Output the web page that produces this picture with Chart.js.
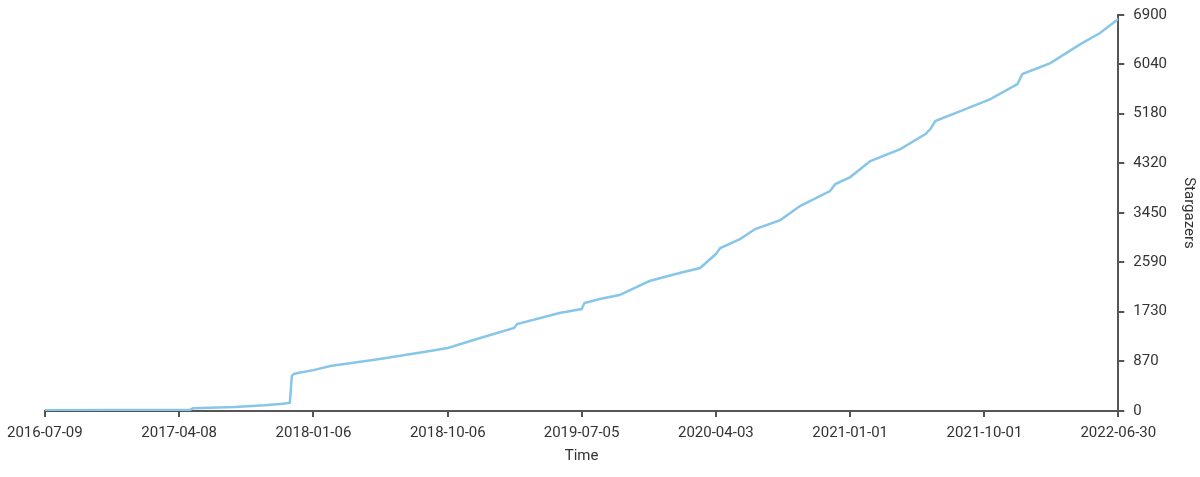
<!DOCTYPE html>
<html>
<head>
<meta charset="utf-8">
<script src="https://cdn.jsdelivr.net/npm/chart.js@4.4.0/dist/chart.umd.min.js"></script>
<style>
  html, body { margin: 0; padding: 0; background: #fff; }
  #wrap { width: 1200px; height: 477px; position: relative; }
</style>
</head>
<body>
<div id="wrap"><canvas id="starsChart"></canvas></div>
<script>
// stargazer history
const dates = [
  '2016-07-09', '2017-04-30', '2017-05-06', '2017-07-30', '2017-09-29', '2017-11-05',
  '2017-11-19', '2017-11-23', '2017-11-27', '2017-12-05', '2018-01-06', '2018-02-09',
  '2018-05-21', '2018-08-31', '2018-10-06', '2018-12-11', '2019-02-18', '2019-02-24',
  '2019-05-21', '2019-07-05', '2019-07-11', '2019-08-11', '2019-09-20', '2019-11-20',
  '2020-01-20', '2020-03-02', '2020-04-03', '2020-04-12', '2020-05-22', '2020-06-22',
  '2020-08-12', '2020-09-21', '2020-11-21', '2020-12-02', '2021-01-01', '2021-02-11',
  '2021-04-13', '2021-06-03', '2021-06-13', '2021-06-23', '2021-08-13', '2021-10-13',
  '2021-12-07', '2021-12-17', '2022-02-12', '2022-04-14', '2022-05-24', '2022-06-30'
];
const stars = [
  15, 20, 47, 70, 99, 127,
  145, 610, 645, 662, 712, 784,
  906, 1045, 1097, 1272, 1446, 1516,
  1707, 1777, 1881, 1951, 2021, 2265,
  2404, 2491, 2735, 2839, 2996, 3170,
  3327, 3571, 3832, 3954, 4076, 4355,
  4564, 4825, 4912, 5052, 5226, 5435,
  5696, 5871, 6062, 6393, 6585, 6829
];
const xTickLabels = [
  '2016-07-09', '2017-04-08', '2018-01-06', '2018-10-06', '2019-07-05',
  '2020-04-03', '2021-01-01', '2021-10-01', '2022-06-30'
];
const yTickValues = [0, 870, 1730, 2590, 3450, 4320, 5180, 6040, 6900];

const toTime = d => Date.parse(d + 'T00:00:00Z');
const fmt = t => new Date(t).toISOString().slice(0, 10);

const axisColor = '#555555';
const textColor = '#333333';
const font = { family: 'Roboto', size: 15 };

new Chart(document.getElementById('starsChart'), {
  type: 'line',
  data: {
    datasets: [{
      label: 'Stargazers',
      data: dates.map((d, i) => ({ x: toTime(d), y: stars[i] })),
      borderColor: '#87c6e8',
      borderWidth: 2.5,
      pointRadius: 0,
      tension: 0,
      fill: false
    }]
  },
  options: {
    responsive: true,
    maintainAspectRatio: false,
    animation: false,
    layout: { padding: { left: 7, right: 0, top: 3, bottom: 8 } },
    plugins: { legend: { display: false }, tooltip: { enabled: false } },
    scales: {
      x: {
        type: 'linear',
        min: toTime(xTickLabels[0]),
        max: toTime(xTickLabels[xTickLabels.length - 1]),
        afterBuildTicks: axis => { axis.ticks = xTickLabels.map(d => ({ value: toTime(d) })); },
        grid: { drawOnChartArea: false, drawTicks: true, tickLength: 6, color: axisColor, lineWidth: 2 },
        border: { display: true, color: axisColor, width: 2 },
        ticks: { color: textColor, font: font, maxRotation: 0, autoSkip: false, padding: 7,
                 callback: v => fmt(v) },
        title: { display: true, text: 'Time', color: textColor, font: font, padding: { top: -2 } }
      },
      y: {
        position: 'right',
        min: 0,
        max: 6900,
        afterBuildTicks: axis => { axis.ticks = yTickValues.map(v => ({ value: v })); },
        afterFit: axis => { axis.paddingTop = Math.max(axis.paddingTop - 3, 0); },
        grid: { drawOnChartArea: false, drawTicks: true, tickLength: 6, color: axisColor, lineWidth: 2 },
        border: { display: true, color: axisColor, width: 2 },
        ticks: { color: textColor, font: font, padding: 9, autoSkip: false, callback: v => String(v) },
        title: { display: true, text: 'Stargazers', color: textColor, font: font, padding: { top: 2 } }
      }
    }
  }
});
</script>
</body>
</html>
